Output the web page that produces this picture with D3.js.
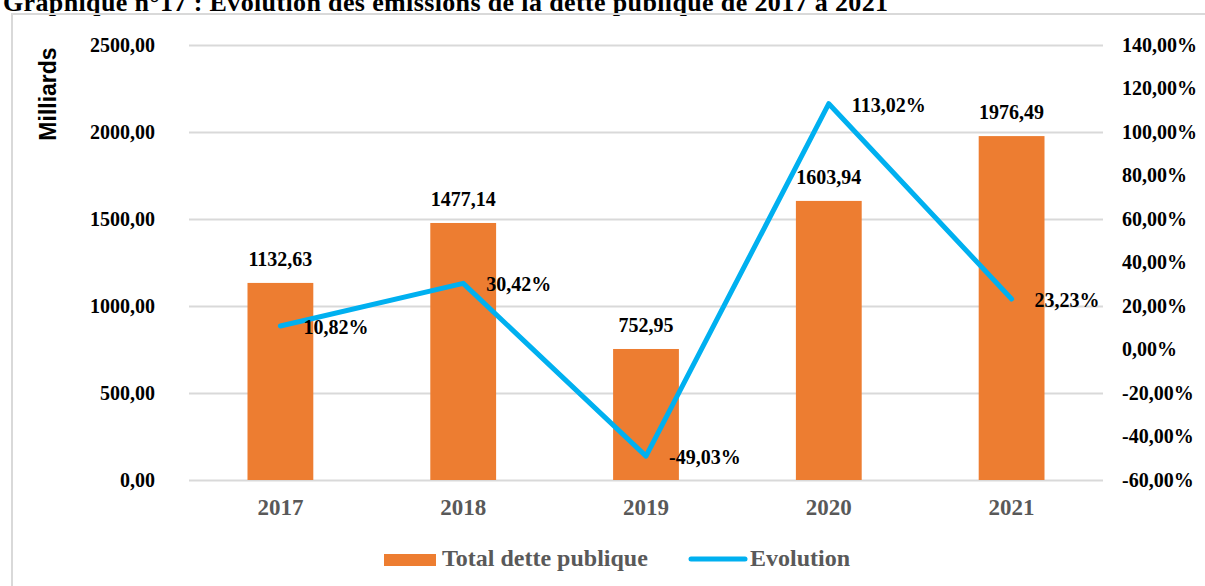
<!DOCTYPE html>
<html>
<head>
<meta charset="utf-8">
<script src="https://cdn.jsdelivr.net/npm/d3@7"></script>
<style>
  html, body { margin: 0; padding: 0; background: #fff; }
  svg { display: block; }
  text { font-family: 'Times New Roman', 'Liberation Serif', serif; font-weight: bold; }
</style>
</head>
<body>
<svg class="chart" width="1205" height="586"></svg>
<script>
const years = ['2017', '2018', '2019', '2020', '2021']
const totalDette = [1132.63, 1477.14, 752.95, 1603.94, 1976.49]
const evolution = [0.1082, 0.3042, -0.4903, 1.1302, 0.2323]
const leftTicks = [0, 500, 1000, 1500, 2000, 2500]
const rightTicks = [-0.6, -0.4, -0.2, 0, 0.2, 0.4, 0.6, 0.8, 1.0, 1.2, 1.4]

const fr = d3.formatLocale({ decimal: ',', thousands: '', grouping: [3], currency: ['', ''], minus: '-' })
const fmtNum = fr.format('.2f')
const fmtPct = fr.format('.2%')

const svg = d3.select('.chart')
const plot = { left: 189, right: 1103, top: 45, bottom: 480 }

const x = d3.scaleBand().domain(years)
  .range([plot.left, plot.right])
  .paddingInner(0.64).paddingOuter(0.32)
const yL = d3.scaleLinear().domain([0, 2500]).range([plot.bottom, plot.top])
const yR = d3.scaleLinear().domain([-0.6, 1.4]).range([plot.bottom, plot.top])

// title, cut at the top like the source scan
svg.append('text')
  .attr('x', 3).attr('y', 11)
  .style('font-size', '26px')
  .attr('textLength', 885)
  .attr('lengthAdjust', 'spacing')
  .attr('fill', '#000')
  .text('Graphique n°17 : Evolution des émissions de la dette publique de 2017 à 2021')

// chart frame
svg.append('rect')
  .attr('x', 12).attr('y', 14)
  .attr('width', 1300).attr('height', 700)
  .attr('fill', 'none')
  .attr('stroke', '#d9d9d9').attr('stroke-width', 2)

// grid
svg.append('g')
  .attr('transform', 'translate(' + plot.left + ',0)')
  .call(d3.axisLeft(yL).tickValues(leftTicks).tickSize(-(plot.right - plot.left)).tickFormat(''))
  .call(g => g.select('.domain').remove())
  .call(g => g.selectAll('line').attr('stroke', '#d9d9d9').attr('stroke-width', 2))

// left axis
svg.append('g')
  .attr('transform', 'translate(' + plot.left + ',0)')
  .call(d3.axisLeft(yL).tickValues(leftTicks).tickSize(0).tickPadding(34).tickFormat(fmtNum))
  .call(g => g.select('.domain').remove())
  .call(g => g.selectAll('text')
    .style('font-size', '20px').style('font-family', null).attr('fill', '#000'))

// right axis
svg.append('g')
  .attr('transform', 'translate(' + plot.right + ',0)')
  .call(d3.axisRight(yR).tickValues(rightTicks).tickSize(0).tickPadding(19).tickFormat(fmtPct))
  .call(g => g.select('.domain').remove())
  .call(g => g.selectAll('text')
    .style('font-size', '20px').style('font-family', null).attr('fill', '#000'))

// bottom axis
svg.append('g')
  .attr('transform', 'translate(0,' + plot.bottom + ')')
  .call(d3.axisBottom(x).tickSize(0).tickPadding(19))
  .call(g => g.select('.domain').remove())
  .call(g => g.selectAll('text')
    .style('font-size', '23px').style('font-family', null).attr('fill', '#595959'))

// y title
svg.append('text')
  .attr('transform', 'translate(56,94) rotate(-90)')
  .attr('text-anchor', 'middle')
  .style('font-family', 'Arial, "Liberation Sans", sans-serif')
  .style('font-size', '23px')
  .attr('fill', '#000')
  .text('Milliards')

const rows = years.map((y, i) => ({ year: y, total: totalDette[i], evo: evolution[i] }))

// bars
svg.selectAll('.bar')
  .data(rows)
  .enter().append('rect')
  .attr('class', 'bar')
  .attr('x', d => x(d.year))
  .attr('y', d => yL(d.total))
  .attr('width', x.bandwidth())
  .attr('height', d => yL(0) - yL(d.total))
  .attr('fill', '#ED7D31')

svg.selectAll('.bar-label')
  .data(rows)
  .enter().append('text')
  .attr('class', 'bar-label')
  .attr('x', d => x(d.year) + x.bandwidth() / 2)
  .attr('y', d => yL(d.total) - 17)
  .attr('text-anchor', 'middle')
  .style('font-size', '20px')
  .attr('fill', '#000')
  .text(d => fmtNum(d.total))

// evolution line
const line = d3.line()
  .x(d => x(d.year) + x.bandwidth() / 2)
  .y(d => yR(d.evo))

svg.append('path')
  .datum(rows)
  .attr('d', line)
  .attr('fill', 'none')
  .attr('stroke', '#00B0F0')
  .attr('stroke-width', 5)
  .attr('stroke-linejoin', 'round')
  .attr('stroke-linecap', 'round')

svg.selectAll('.evo-label')
  .data(rows)
  .enter().append('text')
  .attr('class', 'evo-label')
  .attr('x', d => x(d.year) + x.bandwidth() / 2 + 23)
  .attr('y', d => yR(d.evo) + 8)
  .style('font-size', '20px')
  .attr('fill', '#000')
  .text(d => fmtPct(d.evo))

// legend
const legend = svg.append('g')
legend.append('rect')
  .attr('x', 384).attr('y', 554).attr('width', 52).attr('height', 12)
  .attr('fill', '#ED7D31')
legend.append('text')
  .attr('x', 442).attr('y', 566)
  .style('font-size', '24px').attr('fill', '#595959')
  .text('Total dette publique')
legend.append('line')
  .attr('x1', 691).attr('x2', 745).attr('y1', 559).attr('y2', 559)
  .attr('stroke', '#00B0F0').attr('stroke-width', 5).attr('stroke-linecap', 'round')
legend.append('text')
  .attr('x', 750).attr('y', 566)
  .style('font-size', '24px').attr('fill', '#595959')
  .text('Evolution')
</script>
</body>
</html>
